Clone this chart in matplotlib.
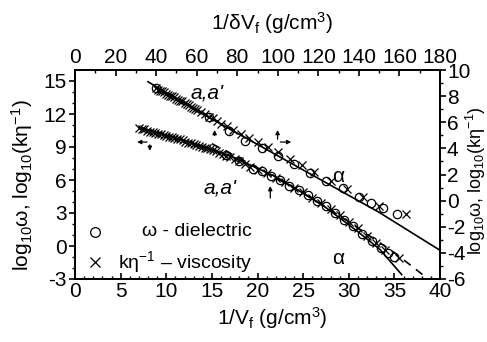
import numpy as np
import matplotlib.pyplot as plt

plt.rcParams['font.family'] = ['Liberation Sans', 'DejaVu Sans']
plt.rcParams['mathtext.fontset'] = 'custom'
plt.rcParams['mathtext.rm'] = 'Liberation Sans'
plt.rcParams['mathtext.it'] = 'Liberation Sans:italic'
plt.rcParams['axes.unicode_minus'] = False

# lower set: bottom axis 1/Vf, left axis
low_x_visc = [7.0, 7.3, 7.6, 7.9, 8.2, 8.5, 8.8, 9.1, 9.4, 9.7, 10.0, 10.3, 10.6,
              10.9, 11.2, 11.5, 11.8, 12.1, 12.4, 12.7, 13.0, 13.3, 13.6, 13.9,
              14.2, 14.5, 14.8, 15.1, 15.4, 15.8, 16.2, 16.6, 17.0, 17.5, 18.0,
              18.6, 19.2, 20.0, 21.0, 22.0, 23.0, 24.0, 25.0, 26.0, 27.0, 28.0,
              29.0, 30.0, 31.0, 32.0, 33.0, 34.0, 35.5]
low_y_visc = [10.7, 10.6, 10.6, 10.5, 10.4, 10.4, 10.3, 10.2, 10.2, 10.1, 10.0, 9.9, 9.9,
              9.8, 9.7, 9.7, 9.6, 9.5, 9.4, 9.4, 9.3, 9.2, 9.1, 9.0,
              8.9, 8.9, 8.8, 8.7, 8.6, 8.5, 8.4, 8.2, 8.1, 7.9, 7.7,
              7.5, 7.2, 6.9, 6.6, 6.2, 5.8, 5.3, 4.9, 4.4, 3.9, 3.4,
              2.8, 2.2, 1.6, 0.9, 0.3, -0.4, -1.1]
low_x_diel = [16.5, 18.0, 19.5, 20.5, 21.5, 22.5, 23.5, 24.5, 25.5, 26.5, 27.5,
              28.5, 29.5, 30.5, 31.5, 32.5, 33.5, 34.3, 35.0]
low_y_diel = [8.3, 7.7, 7.0, 6.8, 6.4, 6.0, 5.5, 5.1, 4.6, 4.1, 3.6,
              3.0, 2.4, 1.8, 1.1, 0.5, -0.2, -0.6, -1.0]
low_fit_x = [7.0, 12.0, 17.0, 22.0, 27.0, 31.0, 33.4, 35.8]
low_fit_y = [10.8, 9.6, 8.2, 6.3, 3.8, 1.3, -0.3, -2.6]
low_dash_x = [15.0, 20.0, 25.0, 30.0, 35.0, 38.4]
low_dash_y = [9.3, 7.1, 4.8, 2.2, -0.6, -2.8]

# upper set: top axis 1/dVf, right axis
up_x_visc = [40, 41, 42, 43, 44, 45, 46, 47, 48, 49, 50, 51, 52, 53, 54, 55, 56, 57,
             58, 59, 60, 62, 64, 66, 68, 70, 72, 75, 78, 82, 86, 90, 95, 100, 106,
             112, 118, 126, 134, 142, 150, 163]
up_y_visc = [8.6, 8.5, 8.4, 8.4, 8.3, 8.2, 8.1, 8.0, 8.0, 7.9, 7.8, 7.7, 7.6, 7.6,
             7.5, 7.4, 7.3, 7.2, 7.1, 7.0, 6.9, 6.8, 6.6, 6.4, 6.3, 6.1, 5.9, 5.7,
             5.4, 5.1, 4.8, 4.5, 4.1, 3.7, 3.2, 2.7, 2.2, 1.5, 0.9, 0.3, -0.4, -1.0]
up_x_diel = [40, 66, 76, 84, 92, 100, 108, 116, 124, 132, 140, 146, 152, 159]
up_y_diel = [8.6, 6.4, 5.3, 4.6, 4.0, 3.4, 2.8, 2.1, 1.5, 1.0, 0.3, -0.2, -0.6, -1.0]
up_fit_x = [36, 60, 90, 120, 150, 180]
up_fit_y = [9.1, 6.9, 4.3, 1.7, -0.9, -3.8]

FS = 15
YLAB = r'log$_\mathregular{10}$ω, log$_\mathregular{10}$(kη$^\mathregular{-1}$)'


def main():
    fig = plt.figure(figsize=(4.87, 3.42), dpi=100)
    ax = fig.add_axes([75/487, 63/342, 365/487, 209/342])

    ax.plot(low_fit_x, low_fit_y, 'k-', lw=1.2)
    ax.plot(low_dash_x, low_dash_y, 'k--', lw=1.2, dashes=(5, 4))
    ax.plot(low_x_visc, low_y_visc, 'kx', ms=5.5, mew=0.9)
    ax.plot(low_x_diel, low_y_diel, 'ko', ms=6, mfc='none', mew=0.9)
    ax.set_xlim(0, 40)
    ax.set_ylim(-3, 16)
    ax.set_xticks(np.arange(0, 41, 5))
    ax.set_xticks(np.arange(0, 41, 1), minor=True)
    ax.set_yticks(np.arange(-3, 16, 3))
    ax.set_yticks(np.arange(-3, 16, 1), minor=True)
    ax.set_xlabel(r'1/V$_\mathregular{f}$ (g/cm$^\mathregular{3}$)', fontsize=FS)
    ax.set_ylabel(YLAB, fontsize=FS)
    ax.xaxis.set_label_coords(0.54, -0.125)
    ax.yaxis.set_label_coords(-0.11, 0.45)

    ax2 = ax.twiny()
    ax3 = ax2.twinx()
    ax3.plot(up_fit_x, up_fit_y, 'k-', lw=1.2)
    ax3.plot(up_x_visc, up_y_visc, 'kx', ms=5.5, mew=0.9)
    ax3.plot(up_x_diel, up_y_diel, 'ko', ms=6, mfc='none', mew=0.9)
    ax2.set_xlim(0, 180)
    ax3.set_xlim(0, 180)
    ax3.set_ylim(-6, 10)
    ax2.set_xticks(np.arange(0, 181, 20))
    ax2.set_xticks(np.arange(0, 181, 10), minor=True)
    ax3.set_yticks(np.arange(-6, 11, 2))
    ax3.set_yticks(np.arange(-6, 11, 1), minor=True)
    ax2.set_xlabel(r'1/δV$_\mathregular{f}$ (g/cm$^\mathregular{3}$)', fontsize=FS)
    ax3.set_ylabel(YLAB, fontsize=13)
    ax2.xaxis.set_label_coords(0.54, 1.19)
    ax3.yaxis.set_label_coords(1.066, 0.47)

    for a in (ax, ax2, ax3):
        a.tick_params(labelsize=FS, width=1.2, length=4, pad=2)
        a.tick_params(which='minor', length=2.5, width=1)
        for s in a.spines.values():
            s.set_linewidth(1.2)
    ax.tick_params(axis='x', which='both', direction='in')
    ax2.tick_params(which='both', direction='in')
    ax3.tick_params(axis='y', pad=1)

    # labels
    ax.text(14.5, 13.9, "a,a'", style='italic', fontsize=FS, ha='center', va='center')
    ax.text(15.9, 5.3, "a,a'", style='italic', fontsize=FS, ha='center', va='center')
    ax.text(28.8, 6.3, 'α', fontsize=FS, ha='center', va='center')
    ax.text(28.8, -1.1, 'α', fontsize=FS, ha='center', va='center')
    ax.annotate('', xy=(15.3, 10.8), xytext=(15.3, 9.8),
                arrowprops=dict(arrowstyle='-|>', lw=0.9, mutation_scale=6, color='k'))
    ax.annotate('', xy=(21.4, 5.7), xytext=(21.4, 4.1),
                arrowprops=dict(arrowstyle='-|>', lw=0.9, mutation_scale=6, color='k'))
    ax.annotate('', xy=(6.5, 9.45), xytext=(8.2, 9.45),
                arrowprops=dict(arrowstyle='-|>', lw=0.9, mutation_scale=6, color='k'))
    ax.annotate('', xy=(8.2, 8.4), xytext=(8.2, 9.45),
                arrowprops=dict(arrowstyle='-|>', lw=0.9, mutation_scale=6, color='k'))
    ax.annotate('', xy=(22.2, 10.8), xytext=(22.2, 9.45),
                arrowprops=dict(arrowstyle='-|>', lw=0.9, mutation_scale=6, color='k'))
    ax.annotate('', xy=(24.0, 9.45), xytext=(22.2, 9.45),
                arrowprops=dict(arrowstyle='-|>', lw=0.9, mutation_scale=6, color='k'))

    # legend drawn by hand
    ax.plot([2.2], [1.3], 'ko', ms=7, mfc='none', mew=0.9)
    ax.plot([2.2], [-1.45], 'kx', ms=7, mew=0.9)
    ax.text(19.4, 1.3, 'ω - dielectric', ha='right', va='center', fontsize=14)
    ax.text(19.4, -1.45, r'kη$^\mathregular{-1}$ – viscosity', ha='right', va='center', fontsize=14)

    fig.savefig('out.png', dpi=100)


if __name__ == "__main__":
    main()
